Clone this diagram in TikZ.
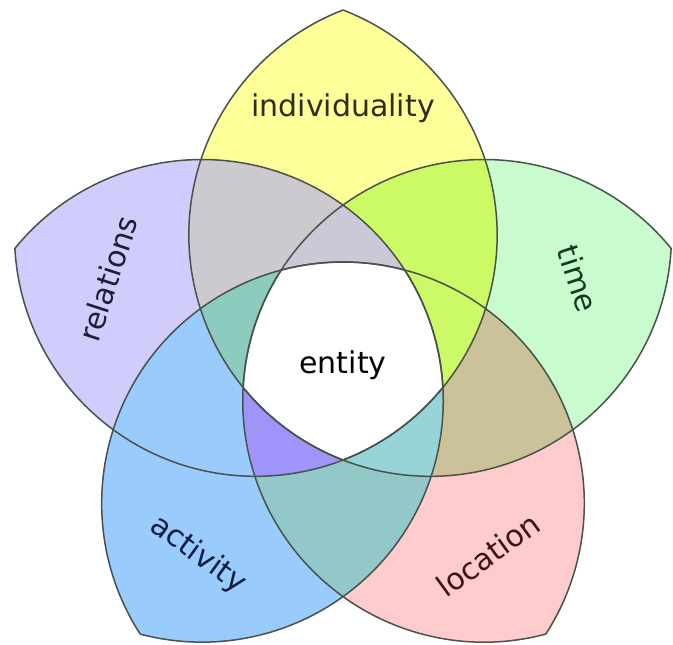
\documentclass[tikz,border=0pt]{standalone}
\usepackage{fontspec}
\setmainfont{DejaVu Sans}
\definecolor{yel}{RGB}{255,255,153}
\definecolor{tim}{RGB}{200,252,206}
\definecolor{loc}{RGB}{255,204,206}
\definecolor{act}{RGB}{153,204,252}
\definecolor{rel}{RGB}{208,204,252}
\definecolor{yelrel}{RGB}{204,202,206}
\definecolor{yeltim}{RGB}{204,250,102}
\definecolor{timloc}{RGB}{204,194,153}
\definecolor{locact}{RGB}{146,200,200}
\definecolor{actrel}{RGB}{153,204,252}
\definecolor{yrgtri}{RGB}{204,200,216}
\definecolor{yrbtri}{RGB}{140,204,190}
\definecolor{rbptri}{RGB}{158,148,250}
\definecolor{bpgtri}{RGB}{150,212,216}
\definecolor{edge}{RGB}{72,82,74}
\definecolor{yeltxt}{RGB}{45,45,25}
\definecolor{timtxt}{RGB}{15,60,30}
\definecolor{loctxt}{RGB}{65,20,20}
\definecolor{acttxt}{RGB}{15,30,65}
\definecolor{reltxt}{RGB}{30,30,55}
\def\lens{(0,345) arc[start angle=68.82,end angle=-68.82,radius=241.31pt]
  arc[start angle=248.82,end angle=111.18,radius=241.31pt] -- cycle}
\begin{document}
\begin{tikzpicture}[x=1pt,y=1pt,line width=1.5pt,line join=round,
  font=\fontsize{30}{36}\selectfont,lbl/.style={inner sep=0pt}]
  \path[use as bounding box,fill=white] (-343,-290) rectangle (330,355);
  \foreach \a/\col in {0/yel,-72/tim,-144/loc,144/act,72/rel}
    \fill[\col,rotate=\a] \lens;
  \foreach \a/\b/\col in {0/72/yelrel,0/-72/yeltim,-72/-144/timloc,
    -144/144/locact,144/72/actrel}{
    \begin{scope}
      \clip[rotate=\a] \lens;
      \fill[\col,rotate=\b] \lens;
    \end{scope}
  }
  \foreach \a/\b/\c/\col in {72/0/-72/yrgtri,144/72/0/yrbtri,
    -144/144/72/rbptri,-72/-144/144/bpgtri,0/-72/-144/yeltim}{
    \begin{scope}
      \clip[rotate=\a] \lens;
      \clip[rotate=\b] \lens;
      \fill[\col,rotate=\c] \lens;
    \end{scope}
  }
  \begin{scope}
    \clip[rotate=0] \lens;
    \clip[rotate=72] \lens;
    \clip[rotate=144] \lens;
    \clip[rotate=-144] \lens;
    \fill[white,rotate=-72] \lens;
  \end{scope}
  \foreach \a in {0,-72,-144,144,72}
    \draw[edge,rotate=\a] \lens;
  \node[lbl,text=yeltxt] (individuality) at (90:247) {individuality};
  \node[lbl,text=timtxt,rotate=-72] (time) at (18:247) {time};
  \node[lbl,text=loctxt,rotate=36] (location) at (-54:247) {location};
  \node[lbl,text=acttxt,rotate=-36] (activity) at (234:247) {activity};
  \node[lbl,text=reltxt,rotate=72] (relations) at (162:247) {relations};
  \node[lbl,text=black] (entity) at (0,-10) {entity};
\end{tikzpicture}
\end{document}
